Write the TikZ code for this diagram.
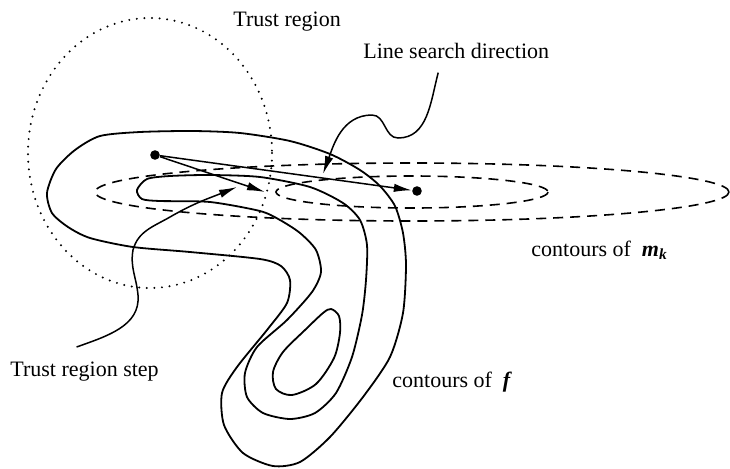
\documentclass[tikz,border=0pt]{standalone}
\usepackage{fontspec}
\setmainfont{Liberation Serif}
\usetikzlibrary{arrows.meta}
\tikzset{
  contour/.style = {line width=0.9pt},
  model/.style = {line width=0.8pt, dash pattern=on 5pt off 3.5pt},
  trust/.style = {line width=1.1pt, dash pattern=on 0pt off 3.8pt, line cap=round},
  dot/.style = {circle, fill, inner sep=0pt, minimum size=4.8pt},
  pointer/.style = {line width=0.75pt, -{Latex[length=9pt,width=4.2pt]}},
  lbl/.style = {font=\fontsize{11}{13}\selectfont, inner sep=0pt, anchor=base west}
}

\begin{document}
\begin{tikzpicture}[x=0.5pt,y=-0.5pt]
\useasboundingbox (0,0) rectangle (730,468);

% trust region and contours of m_k
\draw[trust] (150,153) ellipse [x radius=122, y radius=135];
\foreach \rx/\ry in {136/16, 317/29}{
  \draw[model] (412,192) ellipse [x radius=\rx, y radius=\ry];
}

% contours of f
\draw[contour] plot[smooth cycle, tension=0.45] coordinates {
  (100,136) (140,132) (193,131) (240,133) (290,141) (330,154) (360,170)
  (380,186) (395,206) (403,233) (406,265) (403,313) (390,357) (363,397)
  (330,437) (300,462) (273,466) (243,453) (224,425) (222,393) (237,367)
  (267,330) (287,303) (290,280) (281,266) (260,259) (190,252) (133,247)
  (90,238) (68,227) (52,213) (47,193) (56,169) (75,150)};
\draw[contour] plot[smooth cycle, tension=0.45] coordinates {
  (137,190) (147,179) (170,176) (210,175) (260,177) (310,187) (343,203)
  (360,220) (367,245) (366,280) (362,315) (352,357) (336,393) (315,413)
  (290,419) (263,413) (247,397) (245,373) (257,347) (287,320) (312,292)
  (321,272) (316,250) (300,233) (280,220) (260,211) (210,202) (160,201)
  (142,199)};
\draw[contour] plot[smooth cycle, tension=0.5] coordinates {
  (331,309) (339,316) (340,333) (334,358) (316,384) (292,395) (276,389)
  (273,372) (283,352) (305,330) (323,313)};

% iterate and the two steps
\node[dot] (xk) at (155,155) {};
\node[dot] (xmin) at (417,191) {};
\coordinate (xstep) at (265,192);
\draw[pointer] (xk) -- (xmin);
\draw[pointer] (xk) -- (xstep);

\node[lbl] (trlabel) at (233,26) {Trust region};
\node[lbl] (lslabel) at (363,58) {Line search direction};
\node[lbl] (mklabel) at (531,256) {contours of\hspace{5.5pt}\textbf{\textit{m}}\textsubscript{\textbf{\textit{k}}}};
\node[lbl] (flabel) at (392,387) {contours of\hspace{5.5pt}\textbf{\textit{f}}};
\node[lbl] (steplabel) at (10,376) {Trust region step};

\coordinate (lstip) at (323,174);
\coordinate (steptip) at (237,187);
\draw[pointer] ([xshift=-9pt,yshift=-7pt]lslabel.south) to[out=-105,in=0] (398,138)
  to[out=180,in=0] (372,115) to[out=180,in=70] (lstip);
\draw[pointer] ([xshift=-4pt,yshift=7pt]steplabel.north) to[out=20,in=-85] (138,295)
  to[out=95,in=-100] (133,250) to[out=75,in=-150] (170,217) to[out=30,in=-158] (steptip);

\end{tikzpicture}
\end{document}
